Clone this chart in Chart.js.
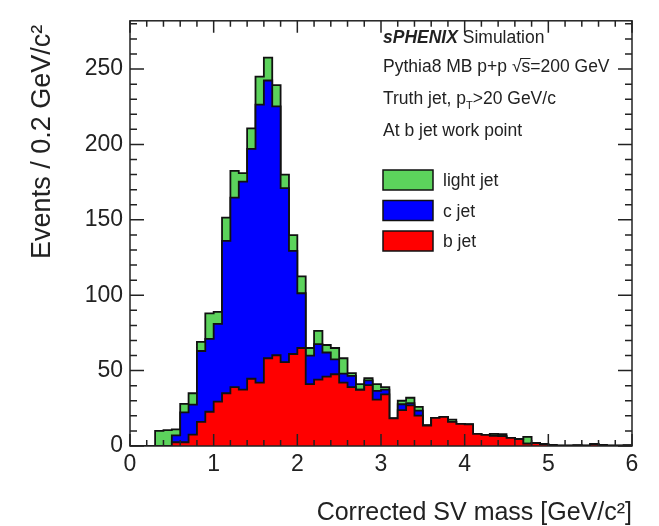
<!DOCTYPE html>
<html>
<head>
<meta charset="utf-8">
<script src="https://cdn.jsdelivr.net/npm/chart.js@4.4.1/dist/chart.umd.min.js"></script>
<style>
  body { margin: 0; background: #fff; }
  #svMass { display: block; }
</style>
</head>
<body>
<canvas id="svMass" width="659" height="526"></canvas>
<script>
// 60 bins of 0.1 GeV/c^2 between 0 and 6
var xMin = 0;
var xMax = 6;
var yMax = 282;
var binEdges = [];
for (var i = 0; i <= 60; i++) binEdges.push(i / 10);

var seriesLabels = ['b jet', 'c jet', 'light jet'];

var bJet = [0, 0, 0, 0, 0, 2.5, 2.5, 7.6, 16, 22.7,
    29.4, 35, 39, 37.4, 44.6, 42, 58.2, 60.2, 55.6, 61,
    65, 41, 44, 46, 47.6, 42, 39, 37.3, 40.4, 30.7,
    34.3, 18.3, 23.8, 27, 20.2, 13.6, 18.6, 19.3, 16, 14.7,
    14.4, 8, 7.4, 6.8, 6.6, 5.4, 4.6, 1.6, 2, 1.3,
    0.6, 0.3, 0.3, 0.4, 0.3, 1.3, 0.5, 0.3, 0.3, 0.4];

var cJet = [0, 0, 0, 0, 0, 4.5, 19.8, 19.9, 47, 48.3,
    51.6, 101, 125.7, 137.9, 152.4, 184.4, 184.2, 165.1, 115.4, 68.4,
    36.3, 19, 23.5, 16, 9.9, 6, 7.5, 0, 3.1, 5.8,
    3.1, 0, 3.9, 1.5, 3.2, 0, 0, 0, 0, 0,
    0, 0, 0, 0, 0, 0, 0, 0, 0, 0,
    0, 0, 0, 0, 0, 0, 0, 0, 0, 0];

var lightJet = [0, 0, 0, 10, 10.5, 4, 5.7, 7.5, 6, 17,
    8, 15.5, 17.8, 5.7, 13.6, 18.6, 15.2, 14.1, 9, 10.4,
    11.2, 5, 8.9, 5, 7.5, 10.2, 1.8, 3.8, 1.5, 4.6,
    1.6, 0, 2.3, 3.5, 2.6, 0, 0, 0, 1.5, 0,
    0, 0, 0, 1.2, 1.2, 0, 0, 4.4, 0, 0,
    0, 0, 0, 0, 0, 0, 0, 0, 0, 0];

var fillColors = ['#ff0000', '#0000ff', '#5cd35c'];
var fontFamily = "'Liberation Sans', Arial, Helvetica, sans-serif";

// one point per lower bin edge, plus the upper edge of the last bin
function histPoints(values) {
    var pts = values.map(function(v, i) {
        return { x: binEdges[i], y: v };
    });
    pts.push({ x: binEdges[values.length], y: values[values.length - 1] });
    return pts;
}

function histDataset(label, values, color, fill) {
    return {
        label: label,
        data: histPoints(values),
        stepped: true,
        backgroundColor: color,
        borderColor: '#111',
        borderWidth: 1.8,
        pointRadius: 0,
        fill: fill
    };
}

// draws a run of text pieces with their own font and vertical shift
function drawPieces(ctx, pieces, x, y) {
    pieces.forEach(function(p) {
        ctx.font = p.font;
        ctx.fillText(p.t, x, y + (p.dy || 0));
        x += ctx.measureText(p.t).width;
    });
    return x;
}

var decorations = {
    id: 'decorations',
    afterDatasetsDraw: function(chart) {
        var ctx = chart.ctx;
        var a = chart.chartArea;
        var xs = chart.scales.x;
        var ys = chart.scales.y;
        ctx.save();

        // frame with inward ticks on all four sides
        ctx.strokeStyle = '#222';
        ctx.lineWidth = 1.5;
        ctx.strokeRect(a.left, a.top, a.right - a.left, a.bottom - a.top);
        ctx.beginPath();
        for (var v = 0; v <= yMax; v += 10) {
            var py = ys.getPixelForValue(v);
            var len = v % 50 === 0 ? 14 : 7;
            ctx.moveTo(a.left, py); ctx.lineTo(a.left + len, py);
            ctx.moveTo(a.right, py); ctx.lineTo(a.right - len, py);
        }
        for (var k = 0; k <= 30; k++) {
            var px = xs.getPixelForValue(k * 0.2);
            var l2 = k % 5 === 0 ? 12 : 6;
            ctx.moveTo(px, a.bottom); ctx.lineTo(px, a.bottom - l2);
            ctx.moveTo(px, a.top); ctx.lineTo(px, a.top + l2);
        }
        ctx.stroke();

        // axis titles
        ctx.fillStyle = '#222';
        ctx.textBaseline = 'alphabetic';
        ctx.font = '25px ' + fontFamily;
        ctx.textAlign = 'right';
        ctx.fillText('Corrected SV mass [GeV/c\u00b2]', a.right, 520);
        ctx.save();
        ctx.translate(50, a.top + 4);
        ctx.rotate(-Math.PI / 2);
        ctx.font = '27px ' + fontFamily;
        ctx.fillText('Events / 0.2 GeV/c\u00b2', 0, 0);
        ctx.restore();

        // text block
        ctx.textAlign = 'left';
        var f = '17.5px ' + fontFamily;
        var tx = 383;
        drawPieces(ctx, [
            { t: 'sPHENIX', font: 'italic bold 17.5px ' + fontFamily },
            { t: ' Simulation', font: f }
        ], tx, 43);
        var endX = drawPieces(ctx, [{ t: 'Pythia8 MB p+p \u221a', font: f }], tx, 72);
        drawPieces(ctx, [{ t: 's=200 GeV', font: f }], endX, 72);
        ctx.beginPath();
        ctx.lineWidth = 1;
        ctx.moveTo(endX - 1, 58.5);
        ctx.lineTo(endX + 9, 58.5);
        ctx.stroke();
        drawPieces(ctx, [
            { t: 'Truth jet, p', font: f },
            { t: 'T', font: '11px ' + fontFamily, dy: 5 },
            { t: '>20 GeV/c', font: f }
        ], tx, 104);
        drawPieces(ctx, [{ t: 'At b jet work point', font: f }], tx, 136);

        // legend, top entry is the top of the stack
        var ds = chart.data.datasets;
        ctx.lineWidth = 1.5;
        ctx.strokeStyle = '#111';
        for (var j = 0; j < ds.length; j++) {
            var d = ds[ds.length - 1 - j];
            var by = 170 + j * 30.5;
            ctx.fillStyle = d.backgroundColor;
            ctx.fillRect(383, by, 50, 20);
            ctx.strokeRect(383, by, 50, 20);
            ctx.fillStyle = '#222';
            ctx.font = f;
            ctx.fillText(d.label, 443, by + 16);
        }
        ctx.restore();
    }
};

new Chart(document.getElementById('svMass'), {
    type: 'line',
    data: {
        datasets: [
            histDataset(seriesLabels[0], bJet, fillColors[0], 'origin'),
            histDataset(seriesLabels[1], cJet, fillColors[1], '-1'),
            histDataset(seriesLabels[2], lightJet, fillColors[2], '-1')
        ]
    },
    options: {
        responsive: false,
        animation: false,
        layout: { padding: { top: 12, right: 27, left: 0, bottom: 0 } },
        plugins: {
            legend: { display: false },
            tooltip: { enabled: false }
        },
        scales: {
            x: {
                type: 'linear',
                min: xMin,
                max: xMax,
                grid: { display: false, drawTicks: false },
                border: { display: false },
                ticks: {
                    stepSize: 1,
                    padding: 5,
                    color: '#222',
                    font: { family: fontFamily, size: 23 },
                    maxRotation: 0
                },
                afterFit: function(s) { s.height = 80; }
            },
            y: {
                stacked: true,
                min: 0,
                max: yMax,
                grid: { display: false, drawTicks: false },
                border: { display: false },
                ticks: {
                    stepSize: 50,
                    includeBounds: false,
                    padding: 7,
                    color: '#222',
                    font: { family: fontFamily, size: 23 }
                },
                afterFit: function(s) { s.width = 130; }
            }
        }
    },
    plugins: [decorations]
});
</script>
</body>
</html>
